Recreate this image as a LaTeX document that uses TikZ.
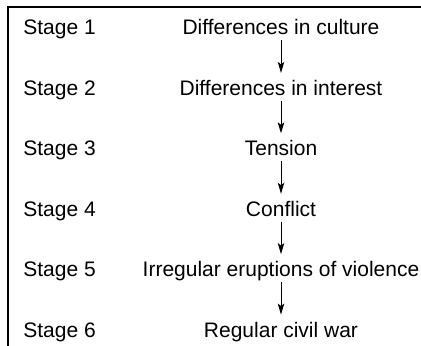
\documentclass[tikz,border=0pt]{standalone}
\usepackage{fontspec}
\setmainfont{Liberation Sans}
\usetikzlibrary{arrows.meta}
\begin{document}
\begin{tikzpicture}[x=0.5pt,y=-0.5pt,
  every node/.style={font=\fontsize{10.5pt}{12pt}\selectfont, inner sep=0pt, text height=7.5pt, text depth=2.5pt},
  stagelbl/.style={anchor=base west},
  stagetxt/.style={anchor=base},
  frameline/.style={line width=1pt},
  flowarrow/.style={line width=0.5pt, -{Stealth[length=5.5pt,width=3.2pt,inset=1.2pt]}, shorten >=3.5pt}]
\useasboundingbox (0,0) rectangle (421,346);
\draw[frameline] (8,346) -- (8,7) -- (421,7);
\foreach \i/\t [count=\k from 0] in {1/Differences in culture,2/Differences in interest,3/Tension,4/Conflict,5/Irregular eruptions of violence,6/Regular civil war}{
  \node[stagelbl] (l\i) at (23,35+60.4*\k) {Stage \i};
  \node[stagetxt] (s\i) at (281,35+60.4*\k) {\t};
}
\foreach \a/\b in {1/2,2/3,3/4,4/5,5/6}{
  \draw[flowarrow] (s\a.south) -- (s\b.north);
}
\end{tikzpicture}
\end{document}
